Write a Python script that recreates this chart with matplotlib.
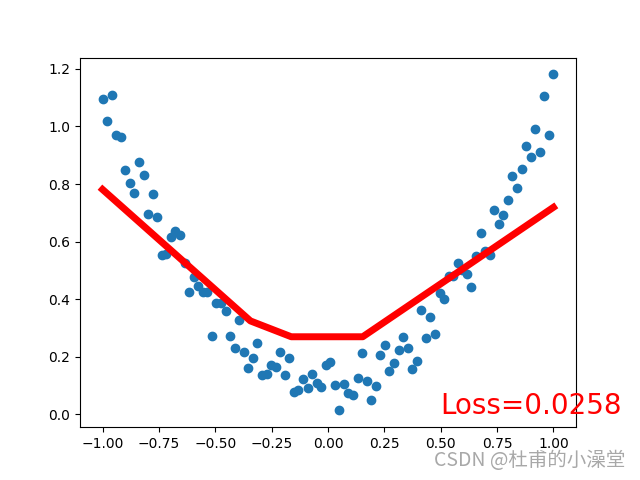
import matplotlib
matplotlib.use("Agg")
import matplotlib.pyplot as plt
import numpy as np

# scatter data: 100 points on x in [-1, 1]
x = np.linspace(-1, 1, 100)
y = [1.094, 1.018, 1.108, 0.970, 0.965, 0.847, 0.802, 0.767, 0.878, 0.830,
     0.694, 0.764, 0.686, 0.554, 0.557, 0.617, 0.636, 0.622, 0.524, 0.426,
     0.476, 0.444, 0.423, 0.426, 0.271, 0.387, 0.385, 0.359, 0.271, 0.230,
     0.327, 0.216, 0.162, 0.194, 0.249, 0.135, 0.138, 0.171, 0.164, 0.216,
     0.135, 0.194, 0.076, 0.084, 0.121, 0.090, 0.140, 0.108, 0.094, 0.172,
     0.182, 0.101, 0.013, 0.104, 0.074, 0.066, 0.125, 0.214, 0.115, 0.048,
     0.098, 0.206, 0.241, 0.150, 0.178, 0.222, 0.269, 0.231, 0.156, 0.185,
     0.363, 0.266, 0.338, 0.278, 0.420, 0.400, 0.481, 0.481, 0.524, 0.500,
     0.487, 0.443, 0.551, 0.628, 0.566, 0.553, 0.708, 0.662, 0.691, 0.743,
     0.829, 0.785, 0.851, 0.931, 0.895, 0.990, 0.910, 1.106, 0.970, 1.181]

# prediction line breakpoints
line_x = [-1.0, -0.344, -0.163, 0.154, 1.0]
line_y = [0.781, 0.324, 0.269, 0.269, 0.719]

loss = 0.0258

fig = plt.figure(figsize=(6.4, 4.8), dpi=100)
plt.scatter(x, y)
plt.plot(line_x, line_y, 'r-', lw=5)
plt.text(0.5, 0, 'Loss=%.4f' % loss, fontdict={'size': 20, 'color': 'red'})

fig.text(0.977, 0.018, 'CSDN @杜甫的小澡堂', ha='right', va='bottom',
         fontsize=14, color='#a8a8a8',
         family=['Noto Sans CJK SC', 'DejaVu Sans'])

plt.savefig('out.png')
